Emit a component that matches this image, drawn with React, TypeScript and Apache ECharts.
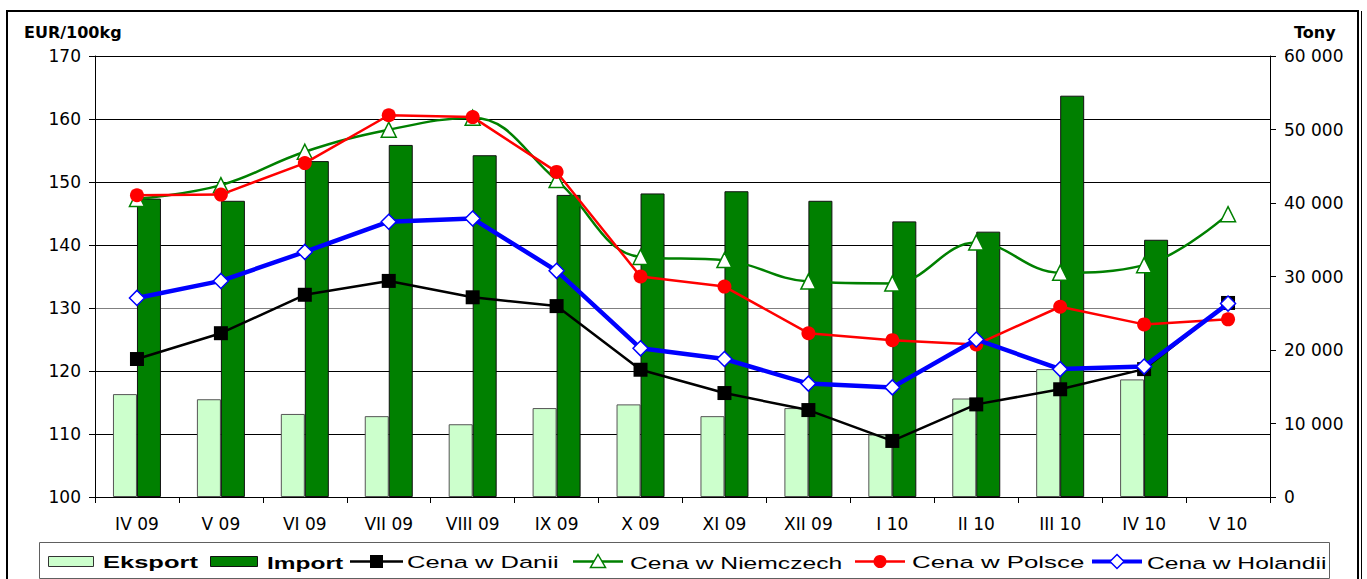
import React, { useEffect, useRef } from "react";
import * as echarts from "echarts";

const categories = ["IV 09", "V 09", "VI 09", "VII 09", "VIII 09", "IX 09", "X 09", "XI 09", "XII 09", "I 10", "II 10", "III 10", "IV 10", "V 10"];
const eksport = [14000, 13300, 11300, 11000, 9900, 12100, 12600, 11000, 12100, 8500, 13400, 17400, 16000, null];
const importT = [40600, 40300, 45700, 47900, 46500, 41100, 41300, 41600, 40300, 37500, 36100, 54600, 35000, null];
const danii = [121.9, 126.0, 132.1, 134.3, 131.7, 130.3, 120.2, 116.5, 113.8, 108.9, 114.7, 117.1, 120.3, 130.8];
const niemcy = [147.3, 149.5, 154.8, 158.3, 160.2, 150.3, 138.1, 137.6, 134.2, 133.9, 140.4, 135.6, 136.8, 144.9];
const polska = [147.9, 148.0, 153.0, 160.6, 160.3, 151.6, 135.0, 133.4, 126.0, 124.9, 124.2, 130.2, 127.4, 128.2];
const holandia = [131.6, 134.3, 138.9, 143.7, 144.2, 135.9, 123.6, 121.9, 118.0, 117.4, 125.0, 120.3, 120.7, 130.7];
const seriesNames = ["Eksport", "Import", "Cena w Danii", "Cena w Niemczech", "Cena w Polsce", "Cena w Holandii"];

const FONT = "'Liberation Sans', Arial, sans-serif";
const AXFONT = "'DejaVu Sans', 'Liberation Sans', sans-serif";

const C_EXP = "#CCFFCC";
const C_IMP = "#008000";
const C_DK = "#000000";
const C_DE = "#008000";
const C_PL = "#FF0000";
const C_NL = "#0000FF";

function legendGraphic() {
  const cy = 561.5;
  const textX = [103, 267, 407, 630, 912, 1147];
  const textScale = [1.5, 1.44, 1.5, 1.45, 1.52, 1.45];
  const iconX = [[48, 93], [210, 257], [350, 403], [573, 623], [855, 905], [1092, 1142]];
  const els: any[] = [];
  els.push({ type: "rect", shape: { x: 39.5, y: 542.5, width: 1290, height: 36 }, style: { fill: "#fff", stroke: "#606060", lineWidth: 1 }, z: 10 });
  els.push({ type: "rect", shape: { x: iconX[0][0] + 0.5, y: 556.5, width: iconX[0][1] - iconX[0][0], height: 10 }, style: { fill: C_EXP, stroke: "#333", lineWidth: 1 }, z: 11 });
  els.push({ type: "rect", shape: { x: iconX[1][0] + 0.5, y: 556.5, width: iconX[1][1] - iconX[1][0], height: 10 }, style: { fill: C_IMP, stroke: "#111", lineWidth: 1 }, z: 11 });
  const lineCols = [C_DK, C_DE, C_PL, C_NL];
  const lineW = [2.5, 2.5, 2.5, 4];
  for (let i = 0; i < 4; i++) {
    const [a, b] = iconX[i + 2];
    els.push({ type: "line", shape: { x1: a, y1: cy, x2: b, y2: cy }, style: { stroke: lineCols[i], lineWidth: lineW[i] }, z: 11 });
  }
  const mx = (i: number) => (iconX[i][0] + iconX[i][1]) / 2;
  els.push({ type: "rect", shape: { x: mx(2) - 6.5, y: cy - 6.5, width: 13, height: 13 }, style: { fill: C_DK }, z: 12 });
  els.push({ type: "polygon", shape: { points: [[mx(3), cy - 7], [mx(3) + 7.5, cy + 6], [mx(3) - 7.5, cy + 6]] }, style: { fill: "#fff", stroke: C_DE, lineWidth: 1.5 }, z: 12 });
  els.push({ type: "circle", shape: { cx: mx(4), cy, r: 6.5 }, style: { fill: C_PL }, z: 12 });
  els.push({ type: "polygon", shape: { points: [[mx(5), cy - 7], [mx(5) + 7, cy], [mx(5), cy + 7], [mx(5) - 7, cy]] }, style: { fill: "#fff", stroke: C_NL, lineWidth: 1.5 }, z: 12 });
  seriesNames.forEach((name, i) => {
    els.push({
      type: "text",
      x: textX[i],
      y: cy + 1,
      scaleX: textScale[i],
      z: 12,
      style: {
        text: name,
        x: 0,
        y: 0,
        font: (i < 2 ? "bold " : "") + "17px " + FONT,
        fill: "#000",
        textAlign: "left",
        textVerticalAlign: "middle",
      },
    });
  });
  return els;
}

export default function App() {
  const ref = useRef<HTMLDivElement>(null);
  useEffect(() => {
    if (!ref.current) return;
    const chart = echarts.init(ref.current, null, { renderer: "svg" });
    chart.setOption({
      animation: false,
      backgroundColor: "#ffffff",
      textStyle: { fontFamily: AXFONT },
      grid: { left: 95, right: 97, top: 56, bottom: 82, containLabel: false },
      graphic: [
        { type: "rect", shape: { x: 7, y: 11, width: 1351, height: 575 }, style: { fill: "none", stroke: "#000", lineWidth: 2 }, silent: true },
        { type: "line", shape: { x1: 1361.5, y1: 11, x2: 1361.5, y2: 579 }, style: { stroke: "#000", lineWidth: 1 }, silent: true },
        { type: "text", x: 24, y: 32, style: { text: "EUR/100kg", font: "bold 16px " + AXFONT, fill: "#000", textVerticalAlign: "middle" } },
        { type: "text", x: 1294, y: 32, style: { text: "Tony", font: "bold 16px " + AXFONT, fill: "#000", textVerticalAlign: "middle" } },
        ...legendGraphic(),
      ],
      xAxis: {
        type: "category",
        data: categories,
        boundaryGap: true,
        axisLine: { lineStyle: { color: "#000", width: 1 } },
        axisTick: { show: true, length: 6, lineStyle: { color: "#000" }, alignWithLabel: false },
        axisLabel: { color: "#000", fontSize: 17, margin: 18, fontFamily: AXFONT, interval: 0 },
      },
      yAxis: [
        {
          type: "value",
          min: 100,
          max: 170,
          interval: 10,
          axisLine: { show: true, lineStyle: { color: "#000" } },
          axisTick: { show: true, length: 6, lineStyle: { color: "#000" } },
          axisLabel: { color: "#000", fontSize: 17, margin: 14, fontFamily: AXFONT },
          splitLine: {
            show: true,
            lineStyle: { color: ["#000", "#000", "#000", "#808080", "#000", "#000", "#000", "#000"], width: 1 },
          },
        },
        {
          type: "value",
          min: 0,
          max: 60000,
          interval: 10000,
          position: "right",
          axisLine: { show: true, lineStyle: { color: "#000" } },
          axisTick: { show: true, length: 6, lineStyle: { color: "#000" } },
          axisLabel: {
            color: "#000",
            fontSize: 17,
            margin: 14,
            fontFamily: AXFONT,
            formatter: (v: number) => (v === 0 ? "0" : `${Math.floor(v / 1000)} 000`),
          },
          splitLine: { show: false },
        },
      ],
      series: [
        {
          name: seriesNames[0],
          type: "bar",
          yAxisIndex: 1,
          data: eksport,
          barWidth: 24,
          barGap: "0%",
          itemStyle: { color: C_EXP, borderColor: "#555", borderWidth: 1 },
        },
        {
          name: seriesNames[1],
          type: "bar",
          yAxisIndex: 1,
          data: importT,
          barWidth: 24,
          barGap: "0%",
          itemStyle: { color: C_IMP, borderColor: "#111", borderWidth: 1 },
        },
        {
          name: seriesNames[2],
          type: "line",
          yAxisIndex: 0,
          data: danii,
          symbol: "rect",
          symbolSize: 14,
          lineStyle: { color: C_DK, width: 2.5 },
          itemStyle: { color: C_DK },
          z: 3,
        },
        {
          name: seriesNames[3],
          type: "line",
          yAxisIndex: 0,
          data: niemcy,
          smooth: 0.4,
          symbol: "triangle",
          symbolSize: 15,
          lineStyle: { color: C_DE, width: 2.5 },
          itemStyle: { color: "#ffffff", borderColor: C_DE, borderWidth: 1.5 },
          z: 4,
        },
        {
          name: seriesNames[4],
          type: "line",
          yAxisIndex: 0,
          data: polska,
          symbol: "circle",
          symbolSize: 14,
          lineStyle: { color: C_PL, width: 2.5 },
          itemStyle: { color: C_PL },
          z: 5,
        },
        {
          name: seriesNames[5],
          type: "line",
          yAxisIndex: 0,
          data: holandia,
          symbol: "diamond",
          symbolSize: 15,
          lineStyle: { color: C_NL, width: 4.5 },
          itemStyle: { color: "#ffffff", borderColor: C_NL, borderWidth: 1.5 },
          z: 6,
        },
      ],
    });
    return () => chart.dispose();
  }, []);
  return <div ref={ref} style={{ position: "absolute", left: 0, top: 0, width: 1367, height: 579 }} />;
}
